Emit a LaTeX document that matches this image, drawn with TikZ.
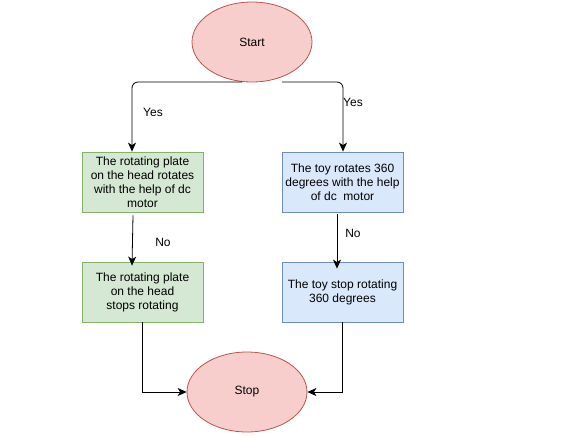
\documentclass[tikz,border=0pt]{standalone}
\usepackage{fontspec}
\setmainfont{Liberation Sans}
\usetikzlibrary{shapes.geometric,arrows.meta}
\definecolor{redfill}{HTML}{F8CECC}
\definecolor{redline}{HTML}{B85450}
\definecolor{greenfill}{HTML}{D5E8D4}
\definecolor{greenline}{HTML}{82B366}
\definecolor{bluefill}{HTML}{DAE8FC}
\definecolor{blueline}{HTML}{6C8EBF}
\tikzset{
  terminal/.style={ellipse, draw=redline, fill=redfill, line width=0.8pt,
    minimum width=120pt, minimum height=80pt, inner sep=0pt,
    font=\fontsize{12}{14}\selectfont},
  greenbox/.style={rectangle, draw=greenline, fill=greenfill, line width=0.8pt,
    minimum width=121pt, minimum height=60pt, inner sep=0pt, align=center,
    font=\fontsize{12}{14}\selectfont},
  bluebox/.style={greenbox, draw=blueline, fill=bluefill},
  conn/.style={line width=0.8pt, -{Stealth[length=9pt,width=8pt,inset=2.5pt]}},
  lbl/.style={font=\fontsize{12}{14}\selectfont, inner sep=0pt}
}
\begin{document}
\begin{tikzpicture}[x=1pt,y=-1pt]
\useasboundingbox (0,0) rectangle (582,437);
\node[terminal] (start) at (252,42) {Start};
\node[terminal] (stop) at (247,392) {Stop};
\node[greenbox] (g1) at (142.5,182) {The rotating plate\\on the head rotates\\with the help of dc\\motor};
\node[greenbox] (g2) at (142.5,292) {The rotating plate\\on the head\\stops rotating};
\node[bluebox] (b1) at (342.5,182) {The toy rotates 360\\degrees with the help\\of dc\ \ motor};
\node[bluebox] (b2) at (342.5,292) {The toy stop rotating\\360 degrees};
\coordinate (sL) at (242,82);
\coordinate (sR) at (282,82);
\draw[conn, rounded corners=6pt] (sL) -| (g1.north -| 132,0);
\draw[conn, rounded corners=6pt] (sR) -| (b1.north -| 343,0);
\draw[conn] (g1.south -| 133,0) ++(0,3) -- ([yshift=-4pt]g2.north -| 132,0);
\draw[conn] (b1.south -| 337,0) ++(0,2) -- ([yshift=-7pt]b2.north -| 337,0);
\draw[conn] (g2.south) |- (stop.west);
\draw[conn] (b2.south) |- (stop.east);
\node[lbl] (yesL) at (153,112) {Yes};
\node[lbl] (yesR) at (353,102) {Yes};
\node[lbl] (noL) at (163,242) {No};
\node[lbl] (noR) at (353,233) {No};
\end{tikzpicture}
\end{document}
